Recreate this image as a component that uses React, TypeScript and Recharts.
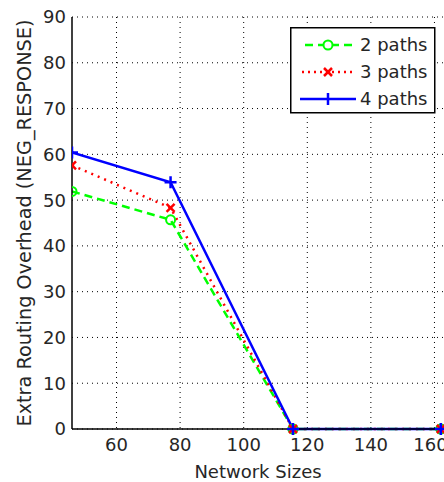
import React from 'react';
import { LineChart, Line, XAxis, YAxis, CartesianGrid } from 'recharts';

const networkSizes = [46, 77, 115.5, 162];
const twoPaths = [51.9, 45.7, 0, 0];
const threePaths = [57.6, 48.3, 0, 0];
const fourPaths = [60.4, 53.9, 0, 0];
const xTicks = [60, 80, 100, 120, 140, 160];
const yTicks = [0, 10, 20, 30, 40, 50, 60, 70, 80, 90];
const seriesNames = ['2 paths', '3 paths', '4 paths'];

const data = networkSizes.map((x, i) => ({
  x,
  p2: twoPaths[i],
  p3: threePaths[i],
  p4: fourPaths[i],
}));

const FONT = '"DejaVu Sans", "Liberation Sans", Arial, sans-serif';
const TXT = '#262626';

const CircleDot = (props: any) => {
  const { cx, cy } = props;
  return <circle cx={cx} cy={cy} r={4.5} fill="none" stroke="#00ff00" strokeWidth={2} />;
};
const CrossDot = (props: any) => {
  const { cx, cy } = props;
  const s = 4;
  return (
    <g stroke="#ff0000" strokeWidth={2.5}>
      <line x1={cx - s} y1={cy - s} x2={cx + s} y2={cy + s} />
      <line x1={cx - s} y1={cy + s} x2={cx + s} y2={cy - s} />
    </g>
  );
};
const PlusDot = (props: any) => {
  const { cx, cy } = props;
  const s = 6;
  return (
    <g stroke="#0000ff" strokeWidth={2.5}>
      <line x1={cx - s} y1={cy} x2={cx + s} y2={cy} />
      <line x1={cx} y1={cy - s} x2={cx} y2={cy + s} />
    </g>
  );
};

const LegendBox = () => {
  const rows = [
    { name: seriesNames[0], color: '#00ff00', dash: '8 5', marker: 'o', x1: 15 },
    { name: seriesNames[1], color: '#ff0000', dash: '2 4', marker: 'x', x1: 12 },
    { name: seriesNames[2], color: '#0000ff', dash: undefined, marker: '+', x1: 10 },
  ];
  return (
    <svg width={146} height={87} style={{ display: 'block' }}>
      <rect x={0.75} y={0.75} width={144} height={85} fill="#fff" stroke="#000" strokeWidth={1.5} />
      {rows.map((r, i) => {
        const y = 18 + i * 27;
        const cx = 38;
        return (
          <g key={r.name}>
            <line x1={r.x1} x2={66} y1={y} y2={y} stroke={r.color} strokeWidth={2.5} strokeDasharray={r.dash} />
            {r.marker === 'o' && <circle cx={cx} cy={y} r={4.5} fill="#fff" stroke={r.color} strokeWidth={2} />}
            {r.marker === 'x' && (
              <g stroke={r.color} strokeWidth={2.5}>
                <line x1={cx - 4} y1={y - 4} x2={cx + 4} y2={y + 4} />
                <line x1={cx - 4} y1={y + 4} x2={cx + 4} y2={y - 4} />
              </g>
            )}
            {r.marker === '+' && (
              <g stroke={r.color} strokeWidth={2.5}>
                <line x1={cx} y1={y - 6} x2={cx} y2={y + 6} />
              </g>
            )}
            <text x={70} y={y} dy="0.36em" fontSize={18} fontFamily={FONT} fill={TXT}>
              {r.name}
            </text>
          </g>
        );
      })}
    </svg>
  );
};

export default function App() {
  return (
    <div style={{ position: 'absolute', left: 0, top: 0, width: 444, height: 482, background: '#fff' }}>
      <LineChart width={444} height={482} data={data} margin={{ top: 17, right: 0, bottom: 0, left: 0 }}>
        <CartesianGrid stroke="#000" strokeDasharray="1 4" strokeWidth={1} verticalValues={xTicks} horizontalValues={yTicks} />
        <XAxis
          dataKey="x"
          type="number"
          domain={[46, 163]}
          ticks={xTicks}
          allowDataOverflow
          height={53}
          tickLine={false}
          tickSize={0}
          tickMargin={9}
          axisLine={{ stroke: '#000', strokeWidth: 1.5 }}
          tick={{ fill: TXT, fontSize: 18, fontFamily: FONT }}
          label={{ value: 'Network Sizes', position: 'insideBottom', offset: 4, fill: TXT, fontSize: 18, fontFamily: FONT }}
        />
        <YAxis
          type="number"
          domain={[0, 90]}
          ticks={yTicks}
          width={72}
          tickLine={false}
          tickSize={0}
          tickMargin={6}
          axisLine={{ stroke: '#000', strokeWidth: 1.5 }}
          tick={{ fill: TXT, fontSize: 18, fontFamily: FONT }}
          label={(props: any) => {
            const vb = props.viewBox;
            const cy = vb.y + vb.height / 2;
            return (
              <text x={24} y={cy} transform={`rotate(-90, 24, ${cy})`} textAnchor="middle" dy="0.36em" fill={TXT} fontSize={19.3} fontFamily={FONT}>
                Extra Routing Overhead (NEG_RESPONSE)
              </text>
            );
          }}
        />
        <Line dataKey="p2" name={seriesNames[0]} stroke="#00ff00" strokeWidth={2.5} strokeDasharray="8 5" dot={<CircleDot />} activeDot={false} isAnimationActive={false} />
        <Line dataKey="p3" name={seriesNames[1]} stroke="#ff0000" strokeWidth={2.5} strokeDasharray="2 5" dot={<CrossDot />} activeDot={false} isAnimationActive={false} />
        <Line dataKey="p4" name={seriesNames[2]} stroke="#0000ff" strokeWidth={2.5} dot={<PlusDot />} activeDot={false} isAnimationActive={false} />
      </LineChart>
      <div style={{ position: 'absolute', left: 290, top: 27 }}>
        <LegendBox />
      </div>
    </div>
  );
}
